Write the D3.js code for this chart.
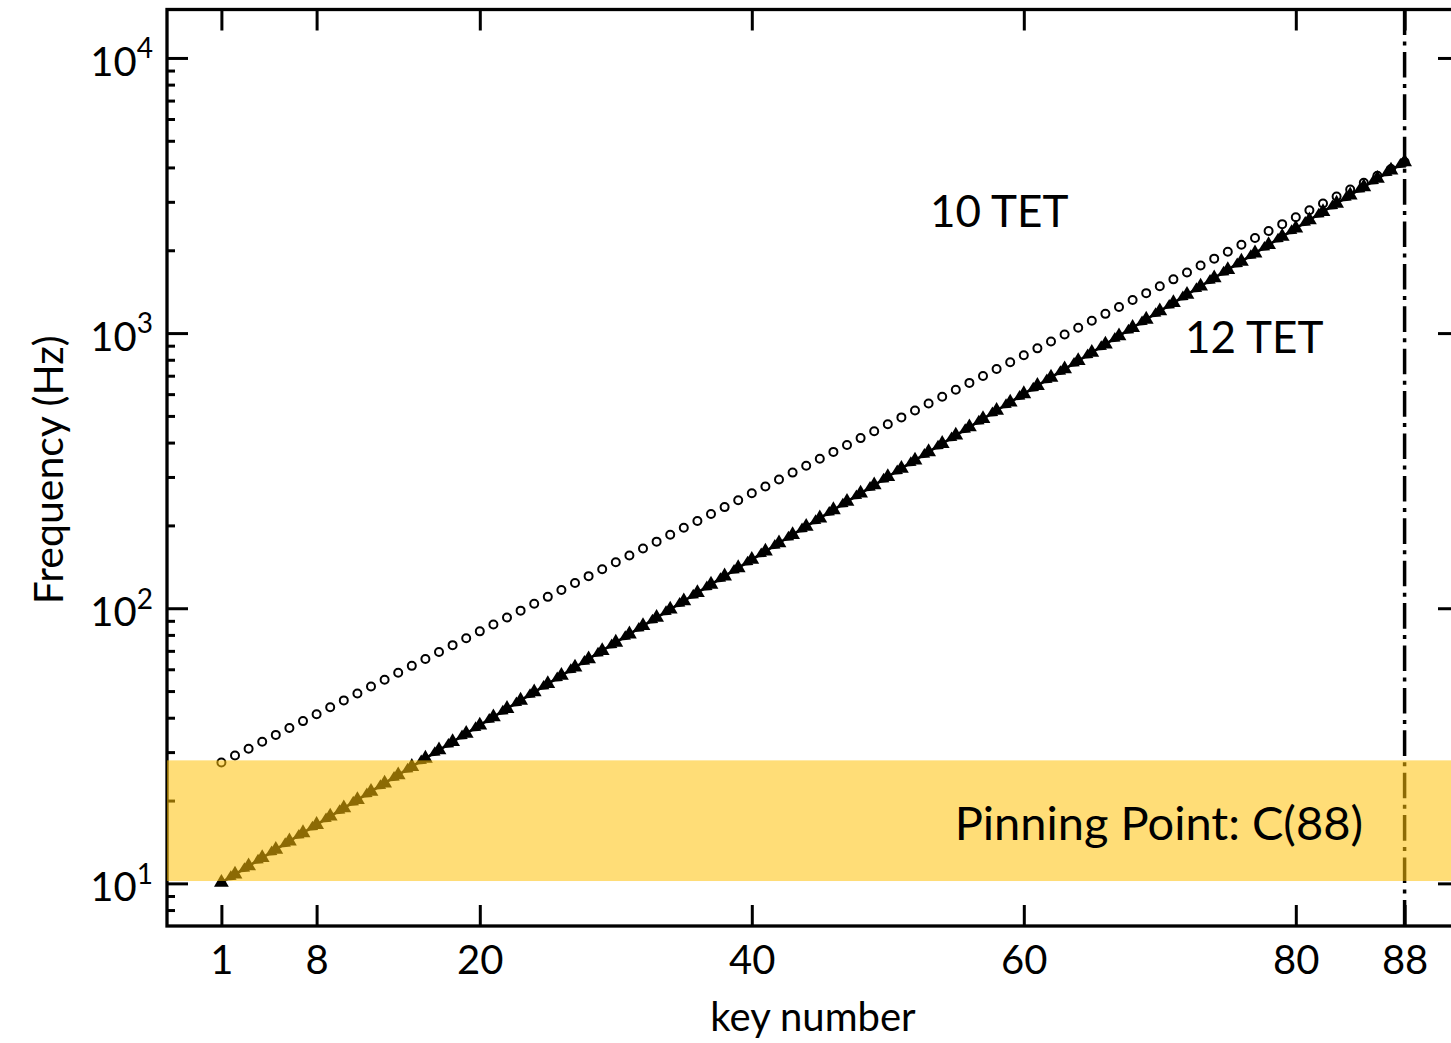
<!DOCTYPE html>
<html>
<head>
<meta charset="utf-8">
<script src="https://cdn.jsdelivr.net/npm/d3@7"></script>
<style>
  html, body { margin: 0; padding: 0; background: #fff; overflow: hidden; }
  svg { display: block; font-family: Lato, "DejaVu Sans", sans-serif; }
</style>
</head>
<body>
<svg id="chart" width="1451" height="1043"></svg>
<script>
// Key frequencies (Hz) for the 88 piano keys, key number = position + 1.
// Standard twelve-tone equal temperament (A4 = 440 Hz).
const equal12 = [
  27.50, 29.14, 30.87, 32.70, 34.65, 36.71, 38.89, 41.20, 43.65, 46.25,
  49.00, 51.91, 55.00, 58.27, 61.74, 65.41, 69.30, 73.42, 77.78, 82.41,
  87.31, 92.50, 98.00, 103.83, 110.00, 116.54, 123.47, 130.81, 138.59, 146.83,
  155.56, 164.81, 174.61, 185.00, 196.00, 207.65, 220.00, 233.08, 246.94, 261.63,
  277.18, 293.66, 311.13, 329.63, 349.23, 369.99, 392.00, 415.30, 440.00, 466.16,
  493.88, 523.25, 554.37, 587.33, 622.25, 659.26, 698.46, 739.99, 783.99, 830.61,
  880.00, 932.33, 987.77, 1046.50, 1108.73, 1174.66, 1244.51, 1318.51, 1396.91, 1479.98,
  1567.98, 1661.22, 1760.00, 1864.66, 1975.53, 2093.00, 2217.46, 2349.32, 2489.02, 2637.02,
  2793.83, 2959.96, 3135.96, 3322.44, 3520.00, 3729.31, 3951.07, 4186.01
];

// Ten-tone equal temperament pinned at the top C (key 88).
const equal10 = [
  10.07, 10.79, 11.56, 12.39, 13.28, 14.24, 15.26, 16.35, 17.53, 18.78,
  20.13, 21.58, 23.13, 24.78, 26.56, 28.47, 30.51, 32.70, 35.05, 37.57,
  40.26, 43.15, 46.25, 49.57, 53.13, 56.94, 61.03, 65.41, 70.10, 75.13,
  80.52, 86.30, 92.50, 99.14, 106.25, 113.88, 122.05, 130.81, 140.20, 150.26,
  161.05, 172.61, 185.00, 198.28, 212.51, 227.76, 244.11, 261.63, 280.40, 300.53,
  322.10, 345.22, 369.99, 396.55, 425.01, 455.52, 488.21, 523.25, 560.80, 601.06,
  644.19, 690.43, 739.99, 793.10, 850.02, 911.03, 976.42, 1046.50, 1121.61, 1202.11,
  1288.39, 1380.87, 1479.97, 1586.20, 1700.04, 1822.06, 1952.84, 2093.00, 2243.21, 2404.23,
  2576.78, 2761.73, 2959.94, 3172.40, 3400.08, 3644.12, 3905.70, 4186.01
];

const xTickValues = [1, 8, 20, 40, 60, 80, 88];
const yMajorValues = [10, 100, 1000, 10000];
const yExponents = ["1", "2", "3", "4"];
const pinKey = 88;
const pinBand = [10.2, 28];
const pinLabel = "Pinning Point: C(88)";
const upperLabel = "10 TET";
const lowerLabel = "12 TET";
const xTitle = "key number";
const yTitle = "Frequency (Hz)";

const svg = d3.select("#chart");
const textFont = "Lato, 'DejaVu Sans', sans-serif";

const x = d3.scaleLinear().domain([-3, 92]).range([167, 1459]);
const y = d3.scaleLog().domain([7, 15000]).range([926, 9.5]);

const [x0, x1] = x.range();
const [yB, yT] = y.range();

const majorLen = 21, minorLen = 8, tickW = 3;
const yMinorValues = y.ticks().filter(v => !yMajorValues.includes(v) && v > 7.01);

const axesG = svg.append("g");

function styleAxis(g) {
  g.select(".domain").remove();
  g.selectAll(".tick line").attr("stroke", "#000").attr("stroke-width", tickW);
}

// bottom axis with labels
axesG.append("g")
  .attr("transform", `translate(0,${yB})`)
  .call(d3.axisBottom(x).tickValues(xTickValues).tickSizeInner(-majorLen).tickSizeOuter(0).tickPadding(20))
  .call(styleAxis)
  .call(g => g.selectAll("text").attr("font-size", 40).attr("fill", "#000")
    .attr("font-family", textFont));

// top axis mirrored ticks
axesG.append("g")
  .attr("transform", `translate(0,${yT})`)
  .call(d3.axisTop(x).tickValues(xTickValues).tickSizeInner(-majorLen).tickSizeOuter(0).tickFormat(""))
  .call(styleAxis);

// left axis: major ticks with power-of-ten labels
axesG.append("g")
  .attr("transform", `translate(${x0},0)`)
  .call(d3.axisLeft(y).tickValues(yMajorValues).tickSizeInner(-majorLen).tickSizeOuter(0).tickPadding(14).tickFormat(""))
  .call(styleAxis)
  .call(g => g.selectAll(".tick text").each(function(d) {
    const t = d3.select(this)
      .attr("font-size", 40).attr("fill", "#000").attr("dy", "0.43em")
      .attr("font-family", textFont);
    t.text(null);
    t.append("tspan").text("10");
    t.append("tspan").attr("font-size", 28).attr("dy", "-0.62em").text(yExponents[yMajorValues.indexOf(d)]);
  }));

// left axis minor ticks
axesG.append("g")
  .attr("transform", `translate(${x0},0)`)
  .call(d3.axisLeft(y).tickValues(yMinorValues).tickSizeInner(-minorLen).tickSizeOuter(0).tickFormat(""))
  .call(styleAxis);

// right axis mirrored ticks
axesG.append("g")
  .attr("transform", `translate(${x1},0)`)
  .call(d3.axisRight(y).tickValues(yMajorValues).tickSizeInner(-majorLen).tickSizeOuter(0).tickFormat(""))
  .call(styleAxis);
axesG.append("g")
  .attr("transform", `translate(${x1},0)`)
  .call(d3.axisRight(y).tickValues(yMinorValues).tickSizeInner(-minorLen).tickSizeOuter(0).tickFormat(""))
  .call(styleAxis);

// frame
axesG.append("rect")
  .attr("x", x0).attr("y", yT)
  .attr("width", x1 - x0).attr("height", yB - yT)
  .attr("fill", "none").attr("stroke", "#000").attr("stroke-width", 3.3);

// pinning key marker line
svg.append("line")
  .attr("x1", x(pinKey)).attr("x2", x(pinKey))
  .attr("y1", yT).attr("y2", yB)
  .attr("stroke", "#000").attr("stroke-width", 3.5)
  .attr("stroke-dasharray", "25.6 6.4 4 6.4");

// ten-tone series: connected arrow-like triangles
const pts10 = equal10.map((f, i) => ({ key: i + 1, f, px: x(i + 1), py: y(f) }));
const g10 = svg.append("g");
g10.append("path")
  .attr("d", d3.line().x(d => d.px).y(d => d.py)(pts10))
  .attr("fill", "none").attr("stroke", "#000").attr("stroke-width", 2.6);

g10.selectAll("path.head")
  .data(pts10.slice(1))
  .join("path")
  .attr("class", "head")
  .attr("d", (d, i) => {
    const p = pts10[i];
    const dx = p.px - d.px, dy = p.py - d.py;
    const L = Math.hypot(dx, dy);
    const ux = dx / L, uy = dy / L;
    const nx = -uy, ny = ux;
    const tipX = d.px + ux * 12.5, tipY = d.py + uy * 12.5;
    const bx = d.px + ux * 1.5, by = d.py + uy * 1.5;
    return `M${tipX},${tipY}L${bx + nx * 5.5},${by + ny * 5.5}L${bx - nx * 5.5},${by - ny * 5.5}Z`;
  })
  .attr("fill", "#000");

g10.selectAll("path.tri")
  .data(pts10)
  .join("path")
  .attr("class", "tri")
  .attr("transform", d => `translate(${d.px},${d.py})`)
  .attr("d", d3.symbol(d3.symbolTriangle, 95))
  .attr("fill", "#000");

// twelve-tone series: open circles
svg.append("g").selectAll("circle")
  .data(equal12.map((f, i) => ({ key: i + 1, f })))
  .join("circle")
  .attr("cx", d => x(d.key))
  .attr("cy", d => y(d.f))
  .attr("r", 4)
  .attr("fill", "none")
  .attr("stroke", "#000")
  .attr("stroke-width", 2);

// highlighted frequency band
svg.append("rect")
  .attr("x", x0).attr("width", x1 - x0)
  .attr("y", y(pinBand[1])).attr("height", y(pinBand[0]) - y(pinBand[1]))
  .attr("fill", "#FFC107").attr("fill-opacity", 0.55);

svg.append("text")
  .attr("x", 1363).attr("y", 840)
  .attr("text-anchor", "end")
  .attr("font-size", 47).attr("font-family", textFont).attr("fill", "#000")
  .text(pinLabel);

svg.append("text")
  .attr("x", 930).attr("y", 227)
  .attr("font-size", 44).attr("font-family", textFont).attr("fill", "#000")
  .text(upperLabel);

svg.append("text")
  .attr("x", 1185).attr("y", 353)
  .attr("font-size", 44).attr("font-family", textFont).attr("fill", "#000")
  .text(lowerLabel);

svg.append("text")
  .attr("x", (x0 + x1) / 2).attr("y", 1031)
  .attr("text-anchor", "middle")
  .attr("font-size", 40).attr("font-family", textFont).attr("fill", "#000")
  .text(xTitle);

svg.append("text")
  .attr("transform", `translate(63,${(yB + yT) / 2 + 2}) rotate(-90)`)
  .attr("text-anchor", "middle")
  .attr("font-size", 41).attr("font-family", textFont).attr("fill", "#000")
  .text(yTitle);
</script>
</body>
</html>
